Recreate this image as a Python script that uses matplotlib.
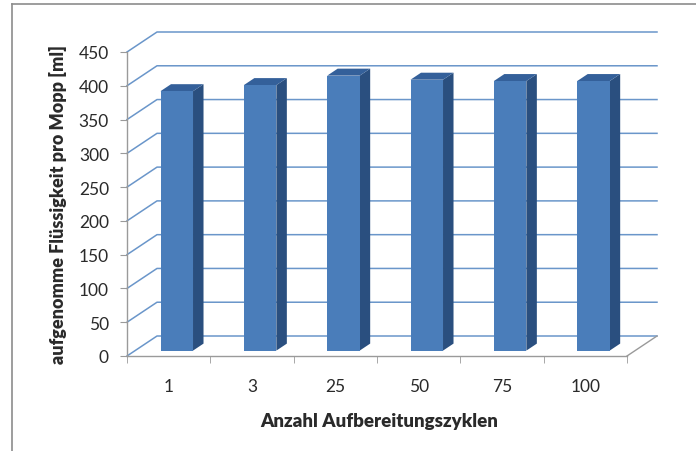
import matplotlib.pyplot as plt
from matplotlib.patches import Polygon
from matplotlib.lines import Line2D
import numpy as np

# Daten
zyklen = ['1', '3', '25', '50', '75', '100']
fluessigkeit = [384, 393, 407, 401, 399, 399]
y_ticks = list(range(0, 451, 50))

# 3D-Optik (Tiefe der Wand in Kategorie- bzw. ml-Einheiten)
depth_x = 0.36
depth_y = 29.6
bar_w = 0.39
f_front, f_back = 0.27, 0.62

col_front = '#4A7DBA'
col_side = '#2A4F7F'
col_top = '#34609A'
col_grid = '#6A96CA'
col_axis = '#9A9A9A'
col_text = '#2A2A2A'

plt.rcParams['font.family'] = ['Lato', 'DejaVu Sans']

fig = plt.figure(figsize=(6.96, 4.52), dpi=100)
ax = fig.add_axes([127 / 696, 95 / 452, 530 / 696, 324 / 452])
n = len(zyklen)
ax.set_xlim(0, n + depth_x)
ax.set_ylim(0, y_ticks[-1] + depth_y)

# Rückwand mit Gitterlinien
for v in y_ticks:
    ax.plot([0, depth_x, n + depth_x], [v, v + depth_y, v + depth_y],
            color=col_grid, lw=1.1, zorder=1, clip_on=False)
# Boden rechts
ax.plot([n, n + depth_x], [0, depth_y], color=col_axis, lw=1.0, zorder=1, clip_on=False)

# Balken (Vorderseite, Seite, Deckel)
idx = np.arange(n)
x_front = idx + 0.5 + f_front * depth_x
bottom = f_front * depth_y
ddx = (f_back - f_front) * depth_x
ddy = (f_back - f_front) * depth_y
for i, val in enumerate(fluessigkeit):
    xl = x_front[i] - bar_w / 2
    xr = x_front[i] + bar_w / 2
    top = bottom + val
    side = Polygon([(xr, bottom), (xr + ddx, bottom + ddy), (xr + ddx, top + ddy), (xr, top)],
                   closed=True, facecolor=col_side, edgecolor='none', zorder=3 + i)
    lid = Polygon([(xl, top), (xl + ddx, top + ddy), (xr + ddx, top + ddy), (xr, top)],
                  closed=True, facecolor=col_top, edgecolor='none', zorder=3 + i)
    ax.add_patch(side)
    ax.add_patch(lid)
    ax.bar(x_front[i], val, bar_w, bottom=bottom, color=col_front, zorder=3 + i)

# Achsen
for s in ['top', 'right']:
    ax.spines[s].set_visible(False)
ax.spines['left'].set_bounds(0, y_ticks[-1])
ax.spines['bottom'].set_bounds(0, n)
for s in ['left', 'bottom']:
    ax.spines[s].set_color(col_axis)
    ax.spines[s].set_linewidth(1.0)

ax.set_yticks(y_ticks)
ax.set_yticklabels([str(v) for v in y_ticks])
ax.tick_params(axis='y', length=5, color=col_axis, pad=8, labelsize=12.5, labelcolor=col_text)

ax.set_xticks(idx + 0.5)
ax.set_xticklabels(zyklen)
ax.set_xticks(np.arange(n + 1), minor=True)
ax.tick_params(axis='x', which='major', length=0, pad=16, labelsize=12.5, labelcolor=col_text)
ax.tick_params(axis='x', which='minor', length=5, color=col_axis)

ax.set_ylabel('aufgenomme Flüssigkeit pro Mopp [ml]', fontsize=13, fontweight='heavy',
              color=col_text)
ax.yaxis.set_label_coords(-0.113, 0.47)
ax.set_xlabel('Anzahl Aufbereitungszyklen', fontsize=13.5, fontweight='heavy', color=col_text)
ax.xaxis.set_label_coords(0.475, -0.172)

# Rahmen um das Diagramm
fig.add_artist(Line2D([12 / 696, 12 / 696], [0, 1 - 5 / 452], color='#8C8C8C', lw=1.2))
fig.add_artist(Line2D([12 / 696, 1], [1 - 5 / 452, 1 - 5 / 452], color='#8C8C8C', lw=1.2))

fig.savefig('out.png', dpi=100)
